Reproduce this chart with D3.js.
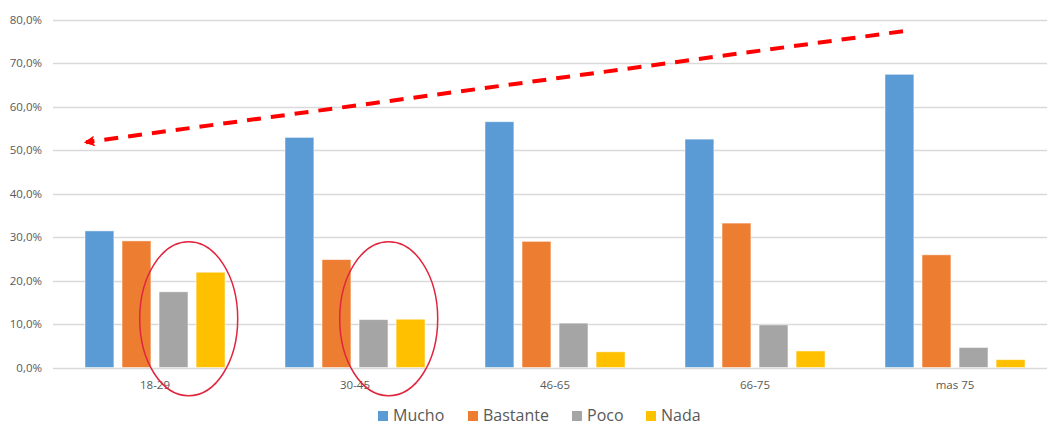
<!DOCTYPE html>
<html>
<head>
<meta charset="utf-8">
<script src="https://cdn.jsdelivr.net/npm/d3@7"></script>
<style>
  body { margin: 0; background: #fff; overflow: hidden; }
  text { font-family: "Open Sans", "Noto Sans", sans-serif; fill: #595959; }
</style>
</head>
<body>
<div id="chart"></div>
<script>
// Data
const categories = ["18-29", "30-45", "46-65", "66-75", "mas 75"];
const seriesNames = ["Mucho", "Bastante", "Poco", "Nada"];
const mucho    = [31.4, 52.9, 56.5, 52.5, 67.4];
const bastante = [29.1, 24.8, 29.0, 33.2, 25.9];
const poco     = [17.4, 11.0, 10.2,  9.8,  4.6];
const nada     = [21.9, 11.1,  3.6,  3.8,  1.8];
const yTicks   = [0, 10, 20, 30, 40, 50, 60, 70, 80];
const colors   = ["#5B9BD5", "#ED7D31", "#A5A5A5", "#FFC000"];

const series = [mucho, bastante, poco, nada];

const width = 1047, height = 425;
const plot = { left: 55, right: 1055, top: 19.5, bottom: 367.5 };

const svg = d3.select("#chart").append("svg")
    .attr("width", width)
    .attr("height", height)
    .style("display", "block");

const x = d3.scaleBand()
    .domain(categories)
    .range([plot.left, plot.right])
    .paddingInner(0.3)
    .paddingOuter(0.15);

const xInner = d3.scaleBand()
    .domain(seriesNames)
    .range([0, x.bandwidth()])
    .paddingInner(0.22);

const y = d3.scaleLinear()
    .domain([0, 80])
    .range([plot.bottom, plot.top]);

// Gridlines
svg.append("g")
  .selectAll("line")
  .data(yTicks)
  .enter().append("line")
    .attr("x1", 53)
    .attr("x2", width)
    .attr("y1", d => Math.round(y(d)) + 0.5)
    .attr("y2", d => Math.round(y(d)) + 0.5)
    .attr("stroke", "#d9d9d9")
    .attr("stroke-width", 1.3);

// Y tick labels
svg.append("g")
  .selectAll("text")
  .data(yTicks)
  .enter().append("text")
    .attr("x", 42)
    .attr("y", d => y(d) + 4)
    .attr("text-anchor", "end")
    .style("font-size", "11.5px")
    .text(d => d.toFixed(1).replace(".", ",") + "%");

// Bars
const groups = svg.append("g")
  .selectAll("g")
  .data(series)
  .enter().append("g")
    .attr("fill", (d, i) => colors[i]);

groups.selectAll("rect")
  .data((d, i) => d.map((v, j) => ({ value: v, cat: categories[j], name: seriesNames[i] })))
  .enter().append("rect")
    .attr("x", d => x(d.cat) + xInner(d.name))
    .attr("width", xInner.bandwidth())
    .attr("y", d => y(d.value))
    .attr("height", d => y(0) - y(d.value))
    .attr("stroke", "rgba(255,255,255,0.6)")
    .attr("stroke-width", 0.8);

// X labels
svg.append("g")
  .selectAll("text")
  .data(categories)
  .enter().append("text")
    .attr("x", d => x(d) + x.bandwidth() / 2)
    .attr("y", 389)
    .attr("text-anchor", "middle")
    .style("font-size", "11.5px")
    .text(d => d);

// Annotations: ellipses around Poco/Nada of the two youngest groups
const ellipseCats = ["18-29", "30-45"];
svg.append("g")
  .selectAll("ellipse")
  .data(ellipseCats)
  .enter().append("ellipse")
    .attr("cx", d => x(d) + xInner("Poco") + xInner.step() * 0.8)
    .attr("cy", y(11.2))
    .attr("rx", 49)
    .attr("ry", 77)
    .attr("fill", "none")
    .attr("stroke", "#E0263E")
    .attr("stroke-width", 1.5);

// Dashed trend arrow
svg.append("defs").append("marker")
    .attr("id", "head")
    .attr("viewBox", "0 0 10 10")
    .attr("refX", 8)
    .attr("refY", 5)
    .attr("markerWidth", 2.7)
    .attr("markerHeight", 2.7)
    .attr("orient", "auto")
  .append("path")
    .attr("d", "M0,0 L10,5 L0,10 L2,5 Z")
    .attr("fill", "#FF0000");

svg.append("line")
    .attr("x1", 903)
    .attr("y1", y(77.3))
    .attr("x2", 86)
    .attr("y2", y(51.8))
    .attr("stroke", "#FF0000")
    .attr("stroke-width", 4)
    .attr("stroke-dasharray", "14 10")
    .attr("marker-end", "url(#head)");

// Legend
const legendX = [378, 468, 572, 646];
const legend = svg.append("g")
  .selectAll("g")
  .data(seriesNames)
  .enter().append("g")
    .attr("transform", (d, i) => "translate(" + legendX[i] + ",411)");

legend.append("rect")
    .attr("width", 10)
    .attr("height", 10)
    .attr("fill", (d, i) => colors[i]);

legend.append("text")
    .attr("x", 15)
    .attr("y", 9.5)
    .style("font-size", "16px")
    .text(d => d);
</script>
</body>
</html>
